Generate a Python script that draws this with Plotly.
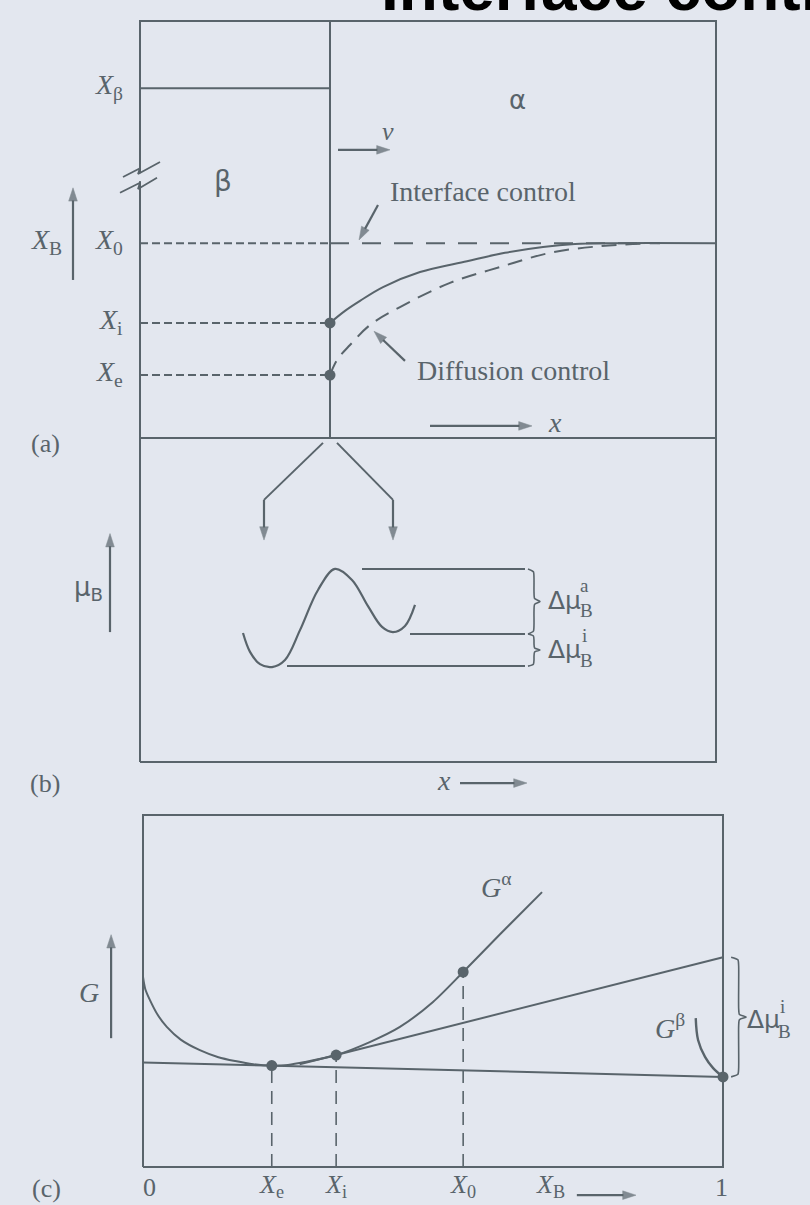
import plotly.graph_objects as go

W, H = 810, 1205
BG = "#e3e7ef"
INK = "#59646b"
FONT = "Liberation Serif"

# ---------------- panel (a): composition profiles ----------------
a_comp_labels = ["<i>X</i><sub>β</sub>", "<i>X</i><sub>0</sub>", "<i>X</i><sub>i</sub>", "<i>X</i><sub>e</sub>"]
a_comp_values = [0.839, 0.467, 0.276, 0.151]
a_x_min, a_x_max = -1.9, 3.86            # distance axis, interface at 0
a_interface_x = [0.0, 0.15, 0.30, 0.53, 0.90, 1.37, 1.75, 2.13, 2.45, 2.80, 3.86]
a_interface_c = [0.276, 0.305, 0.329, 0.362, 0.398, 0.424, 0.444, 0.458, 0.465, 0.467, 0.467]
a_diffusion_x = [0.0, 0.07, 0.20, 0.40, 0.70, 1.20, 1.70, 2.20, 2.70, 3.20]
a_diffusion_c = [0.151, 0.187, 0.223, 0.271, 0.314, 0.372, 0.410, 0.444, 0.460, 0.467]
a_break1_x = [-2.07, -1.90, -1.92, -1.70]
a_break1_y = [0.626, 0.647, 0.633, 0.662]
a_break2_x = [-2.10, -1.90, -1.92, -1.73]
a_break2_y = [0.588, 0.612, 0.597, 0.624]

# ---------------- panel (b): chemical potential across interface ----------------
b_mu_x = [-0.87, -0.80, -0.70, -0.58, -0.45, -0.30, -0.12, 0.05, 0.22, 0.38, 0.52, 0.63, 0.75, 0.85]
b_mu_y = [0.398, 0.340, 0.302, 0.293, 0.315, 0.407, 0.531, 0.596, 0.562, 0.481, 0.417, 0.401, 0.420, 0.485]
b_levels = [0.596, 0.395, 0.296]
b_level_start = [0.32, 0.80, -0.43]
b_level_end = 1.95
b_split_left_x = [-0.07, -0.66, -0.66]
b_split_right_x = [0.07, 0.63, 0.63]
b_split_y = [0.985, 0.809, 0.685]

# ---------------- panel (c): free energy curves ----------------
c_ga_x = [0.0, 0.004, 0.012, 0.025, 0.041, 0.065, 0.098, 0.13, 0.159, 0.19, 0.222, 0.25,
          0.279, 0.333, 0.391, 0.443, 0.50, 0.552, 0.616, 0.688]
c_ga_g = [0.540, 0.505, 0.474, 0.433, 0.398, 0.362, 0.332, 0.312, 0.301, 0.292, 0.288, 0.290,
          0.298, 0.318, 0.355, 0.398, 0.469, 0.554, 0.662, 0.781]
c_gb_x = [0.953, 0.957, 0.969, 0.983, 1.0]
c_gb_g = [0.423, 0.361, 0.313, 0.281, 0.256]
c_eq_tangent_x = [0.0, 1.0]
c_eq_tangent_g = [0.297, 0.256]
c_int_tangent_x = [0.27, 1.0]
c_int_tangent_g = [0.292, 0.596]
c_marks = ["<i>X</i><sub>e</sub>", "<i>X</i><sub>i</sub>", "<i>X</i><sub>0</sub>"]
c_mark_x = [0.222, 0.333, 0.552]
c_mark_g = [0.288, 0.318, 0.554]

# ---------------- page layout (pixel boxes of each panel) ----------------
panels = {
    # name: (left, right, top, bottom, x0, x1, y0, y1, band_top, band_bottom)
    "a": (140, 716, 21, 438, a_x_min, a_x_max, 0.0, 1.0, 0, 445),
    "b": (140, 716, 438, 762, a_x_min, a_x_max, 0.0, 1.0, 432, 805),
    "c": (143, 723, 815, 1167, 0.0, 1.0, 0.0, 1.0, 805, 1205),
}
axis_ids = {"a": ("x", "y"), "b": ("x2", "y2"), "c": ("x3", "y3")}

fig = go.Figure()
layout_axes = {}
for i, (name, (L, R, T, B, x0, x1, y0, y1, bt, bb)) in enumerate(panels.items()):
    sx = (x1 - x0) / (R - L)
    sy = (y1 - y0) / (B - T)
    xr = [x0 - L * sx, x0 + (W - L) * sx]
    yr = [y0 - (bb - B) * sy, y0 + (B - bt) * sy]
    suffix = "" if i == 0 else str(i + 1)
    layout_axes["xaxis" + suffix] = dict(domain=[0, 1], range=xr, visible=False, fixedrange=True,
                                         anchor="y" + suffix)
    layout_axes["yaxis" + suffix] = dict(domain=[(H - bb) / H, (H - bt) / H], range=yr, visible=False,
                                         fixedrange=True, anchor="x" + suffix)


def add_line(panel, xs, ys, dash=None, width=2, color=INK, shape="linear", smoothing=1.0):
    xa, ya = axis_ids[panel]
    fig.add_trace(go.Scatter(x=xs, y=ys, xaxis=xa, yaxis=ya, mode="lines",
                             line=dict(color=color, width=width, dash=dash, shape=shape,
                                       smoothing=smoothing),
                             hoverinfo="skip", showlegend=False))


def add_dots(panel, xs, ys, size=11):
    xa, ya = axis_ids[panel]
    fig.add_trace(go.Scatter(x=xs, y=ys, xaxis=xa, yaxis=ya, mode="markers",
                             marker=dict(color=INK, size=size), hoverinfo="skip",
                             showlegend=False, cliponaxis=False))


def arrow(panel, x, y, ax, ay, width=2.2, size=14):
    """Arrow from tail (ax, ay) to head (x, y), drawn as a line with an arrow marker."""
    xa, ya = axis_ids[panel]
    fig.add_trace(go.Scatter(x=[ax, x], y=[ay, y], xaxis=xa, yaxis=ya, mode="lines+markers",
                             line=dict(color=INK, width=width),
                             marker=dict(symbol=["circle", "arrow"], size=[0, size],
                                         angleref="previous", color=INK,
                                         line=dict(width=0.5, color=INK)),
                             hoverinfo="skip", showlegend=False, cliponaxis=False))


annotations = []


def label(panel, text, x, y, size=28, xanchor="center", yanchor="middle", color=INK, family=FONT):
    xa, ya = axis_ids[panel]
    annotations.append(dict(text=text, x=x, y=y, xref=xa, yref=ya, showarrow=False,
                            xanchor=xanchor, yanchor=yanchor,
                            font=dict(family=family, size=size, color=color)))


def brace(panel, x0, ytop, ybot, w, d):
    ym = (ytop + ybot) / 2
    xm = x0 + w / 2
    xs = [x0, xm - w * 0.05, xm, xm, xm + w * 0.05, x0 + w, xm + w * 0.05, xm, xm, xm - w * 0.05, x0]
    ys = [ytop, ytop - d * 0.3, ytop - d, ym + d, ym + d * 0.3, ym, ym - d * 0.3, ym - d, ybot + d,
          ybot + d * 0.3, ybot]
    add_line(panel, xs, ys, width=1.6, shape="spline", smoothing=0.6)


# ---------------- panel (a) ----------------
add_line("a", [a_x_min, a_x_max, a_x_max, a_x_min, a_x_min], [0, 0, 1, 1, 0])
add_line("a", [0, 0], [0, 1])
add_line("a", [a_x_min, 0], [a_comp_values[0]] * 2)
for v in a_comp_values[1:]:
    add_line("a", [a_x_min, 0], [v, v], dash="8px,4px")
add_line("a", [0, 3.3], [a_comp_values[1]] * 2, dash="19px,13px")
add_line("a", a_diffusion_x, a_diffusion_c, dash="15px,9px", shape="spline")
add_line("a", a_interface_x, a_interface_c, shape="spline")
add_line("a", [a_x_min, a_x_min], [a_break2_y[1] + 0.004, a_break1_y[1] - 0.012], color=BG, width=4)
add_line("a", a_break1_x, a_break1_y, width=1.8)
add_line("a", a_break2_x, a_break2_y, width=1.8)
add_dots("a", [0, 0], [a_comp_values[2], a_comp_values[3]])

for t, v in zip(a_comp_labels, a_comp_values):
    label("a", t, -2.05, v + 0.004, xanchor="right")
label("a", "<i>X</i><sub>B</sub>", -2.66, a_comp_values[1] + 0.004, xanchor="right")
arrow("a", -2.57, 0.60, -2.57, 0.379)
label("a", "(a)", -2.85, -0.012, size=26)
label("a", "β", -1.07, 0.614, size=28, family="DejaVu Sans")
label("a", "α", 1.87, 0.811, size=26, family="DejaVu Sans")
label("a", "<i>ν</i>", 0.58, 0.735, size=26)
arrow("a", 0.60, 0.691, 0.08, 0.691)
label("a", "Interface control", 0.58, 0.592, xanchor="left")
arrow("a", 0.29, 0.475, 0.48, 0.559)
label("a", "Diffusion control", 0.85, 0.163, xanchor="left")
arrow("a", 0.44, 0.256, 0.75, 0.185)
arrow("a", 2.02, 0.029, 1.00, 0.029)
label("a", "<i>x</i>", 2.25, 0.036, size=28)

# ---------------- panel (b) ----------------
add_line("b", [a_x_min, a_x_max, a_x_max, a_x_min, a_x_min], [0, 0, 1, 1, 0])
add_line("b", b_split_left_x[:2], b_split_y[:2])
add_line("b", b_split_right_x[:2], b_split_y[:2])
arrow("b", b_split_left_x[2], b_split_y[2], b_split_left_x[1], b_split_y[1])
arrow("b", b_split_right_x[2], b_split_y[2], b_split_right_x[1], b_split_y[1])
add_line("b", b_mu_x, b_mu_y, shape="spline", width=2.2)
for s, v in zip(b_level_start, b_levels):
    add_line("b", [s, b_level_end], [v, v])
brace("b", 1.98, b_levels[0], b_levels[1], 0.12, 0.03)
brace("b", 1.98, b_levels[1], b_levels[2], 0.12, 0.02)
label("b", "μ<sub>B</sub>", -2.42, 0.537, size=26, family="DejaVu Sans")
arrow("b", -2.20, 0.705, -2.20, 0.401)
label("b", "Δμ", 2.16, 0.50, xanchor="left", family="DejaVu Sans", size=25)
label("b", "a", 2.48, 0.545, xanchor="left", size=19)
label("b", "B", 2.48, 0.468, xanchor="left", size=19)
label("b", "Δμ", 2.16, 0.346, xanchor="left", family="DejaVu Sans", size=25)
label("b", "i", 2.50, 0.390, xanchor="left", size=19)
label("b", "B", 2.48, 0.314, xanchor="left", size=19)
label("b", "(b)", -2.85, -0.065, size=26)
label("b", "<i>x</i>", 1.14, -0.058, size=28)
arrow("b", 1.97, -0.065, 1.30, -0.065)

# ---------------- panel (c) ----------------
add_line("c", [0, 1, 1, 0, 0], [0, 0, 1, 1, 0])
for mx, mg in zip(c_mark_x, c_mark_g):
    add_line("c", [mx, mx], [0, mg], dash="13px,8px", width=1.6)
add_line("c", c_eq_tangent_x, c_eq_tangent_g)
add_line("c", c_int_tangent_x, c_int_tangent_g)
add_line("c", c_ga_x, c_ga_g, shape="spline", smoothing=0.8)
add_line("c", c_gb_x, c_gb_g, shape="spline", width=2.4)
add_dots("c", c_mark_x + [1.0], c_mark_g + [c_gb_g[-1]])
brace("c", 1.014, c_int_tangent_g[-1], c_gb_g[-1], 0.026, 0.025)

label("c", "(c)", -0.167, -0.062, size=26)
label("c", "0", 0.012, -0.058, size=26)
label("c", "1", 0.998, -0.058, size=26)
for t, mx in zip(c_marks, c_mark_x):
    label("c", t, mx, -0.054, size=26)
label("c", "<i>X</i><sub>B</sub>", 0.702, -0.054, size=26)
arrow("c", 0.85, -0.080, 0.748, -0.080)
label("c", "<i>G</i>", -0.093, 0.497)
arrow("c", -0.055, 0.66, -0.055, 0.366)
label("c", "<i>G</i><sup>α</sup>", 0.610, 0.800)
label("c", "<i>G</i><sup>β</sup>", 0.909, 0.400)
label("c", "Δμ", 1.038, 0.418, xanchor="left", family="DejaVu Sans", size=25)
label("c", "i", 1.095, 0.455, xanchor="left", size=19)
label("c", "B", 1.092, 0.385, xanchor="left", size=19)

# cropped heading from the page above
annotations.append(dict(text="<b>Interface control</b>", x=379 / W, y=(H - 26) / H, xref="paper",
                        yref="paper", xanchor="left", yanchor="bottom", showarrow=False,
                        font=dict(family="Liberation Sans", size=64, color="#000000")))

fig.update_layout(width=W, height=H, margin=dict(l=0, r=0, t=0, b=0), paper_bgcolor=BG,
                  plot_bgcolor="rgba(0,0,0,0)", showlegend=False, annotations=annotations,
                  **layout_axes)
fig.write_html("out.html", config={"displayModeBar": False},
               post_script="document.body.style.margin='0px';")
